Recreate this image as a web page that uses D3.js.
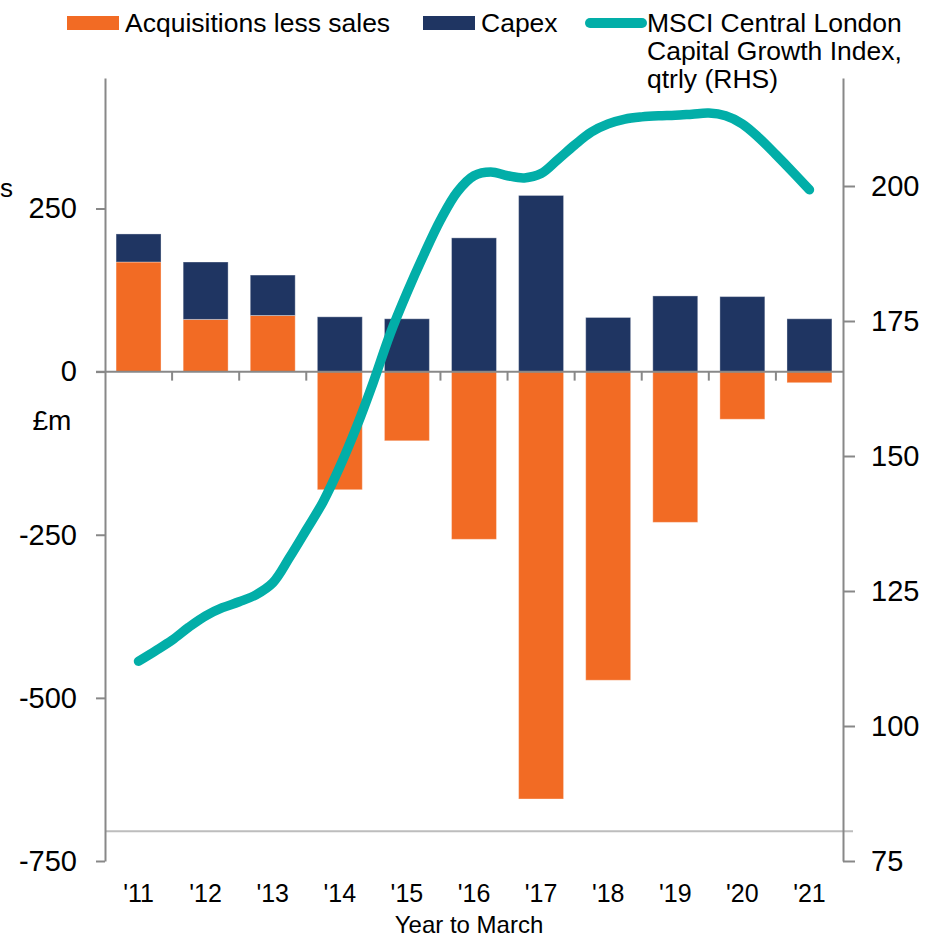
<!DOCTYPE html>
<html>
<head>
<meta charset="utf-8">
<script src="https://cdn.jsdelivr.net/npm/d3@7"></script>
<style>
    html, body { margin: 0; padding: 0; background: #fff; }
    svg { display: block; font-family: "Liberation Sans", Arial, sans-serif; }
</style>
</head>
<body>
<svg id="chart" width="928" height="939"></svg>
<script>
// values, £m and index points
const years = ["'11", "'12", "'13", "'14", "'15", "'16", "'17", "'18", "'19", "'20", "'21"];
const acquisitionsLessSales = [168, 80, 86, -181, -106, -257, -655, -473, -231, -73, -17];
const capex = [43, 88, 62, 84, 81, 205, 270, 83, 116, 115, 81];
// MSCI Central London capital growth index, quarterly from '11 to '21
const msciIndex = [
    112.0, 113.9, 115.9, 118.3,
    120.4, 121.9, 123.0, 124.3,
    126.5, 131.2, 136.3, 141.5,
    148.0, 155.4, 163.7, 172.6,
    180.2, 187.2, 193.7, 198.9,
    201.9, 202.6, 201.9, 201.5,
    202.3, 204.9, 207.6, 210.0,
    211.5, 212.4, 212.8, 213.0,
    213.1, 213.3, 213.5, 213.0,
    211.5, 208.9, 205.8, 202.6,
    199.3
];
const leftTicks = [250, 0, -250, -500, -750];
const rightTicks = [200, 175, 150, 125, 100, 75];
const floorValue = 80.5;

const colors = { acq: "#f26b24", capex: "#1f3562", msci: "#02aea8", axis: "#888888", floor: "#bdbdbd", text: "#000" };

const svg = d3.select("#chart");

const x = d3.scaleBand()
    .domain(years)
    .range([105, 843])
    .paddingInner(0.33)
    .paddingOuter(0.165);

const yLeft = d3.scaleLinear().domain([-750, 450]).range([861, 78]);
const yRight = d3.scaleLinear().domain([75, 220]).range([861, 78]);

// quarter position -> x, from centre of first year to centre of last year
const xQuarter = d3.scaleLinear()
    .domain([0, years.length - 1])
    .range([x(years[0]) + x.bandwidth() / 2, x(years[years.length - 1]) + x.bandwidth() / 2]);

// floor line
svg.append("line")
    .attr("x1", 105).attr("x2", 853)
    .attr("y1", yRight(floorValue)).attr("y2", yRight(floorValue))
    .attr("stroke", colors.floor).attr("stroke-width", 2);

// bars
const bars = years.map((year, i) => {
    const a = acquisitionsLessSales[i];
    const base = Math.max(a, 0);
    return { year, a, c0: base, c1: base + capex[i] };
});

const barLayer = svg.append("g").attr("class", "bars");

barLayer.selectAll("rect.acq")
    .data(bars)
    .join("rect")
    .attr("class", "acq")
    .attr("x", d => x(d.year))
    .attr("width", x.bandwidth())
    .attr("y", d => yLeft(Math.max(d.a, 0)))
    .attr("height", d => Math.abs(yLeft(d.a) - yLeft(0)))
    .attr("fill", colors.acq)
    .attr("stroke", "rgba(255,255,255,0.35)")
    .attr("stroke-width", 1);

barLayer.selectAll("rect.capex")
    .data(bars)
    .join("rect")
    .attr("class", "capex")
    .attr("x", d => x(d.year))
    .attr("width", x.bandwidth())
    .attr("y", d => yLeft(d.c1))
    .attr("height", d => yLeft(d.c0) - yLeft(d.c1))
    .attr("fill", colors.capex)
    .attr("stroke", "rgba(255,255,255,0.35)")
    .attr("stroke-width", 1);

// left axis (plain hyphen for negatives, as in the original)
const leftAxis = svg.append("g")
    .attr("transform", "translate(105,0)")
    .call(d3.axisLeft(yLeft).tickValues(leftTicks).tickFormat(d => String(d))
        .tickSize(9).tickSizeOuter(0).tickPadding(19));

// right axis
const rightAxis = svg.append("g")
    .attr("transform", "translate(843,0)")
    .call(d3.axisRight(yRight).tickValues(rightTicks).tickFormat(d => String(d))
        .tickSize(12).tickSizeOuter(0).tickPadding(16));

[leftAxis, rightAxis].forEach(g => {
    g.select(".domain").attr("stroke", colors.axis).attr("stroke-width", 2);
    g.selectAll(".tick line").attr("stroke", colors.axis).attr("stroke-width", 2);
    g.selectAll(".tick text")
        .attr("fill", colors.text)
        .style("font-size", "29px")
        .style("font-family", "'Liberation Sans', Arial, sans-serif");
});

// zero line with category boundary ticks
const zeroY = yLeft(0);
svg.append("line")
    .attr("x1", 96).attr("x2", 843)
    .attr("y1", zeroY).attr("y2", zeroY)
    .attr("stroke", colors.axis).attr("stroke-width", 2);

svg.append("g")
    .selectAll("line")
    .data(years.slice(1))
    .join("line")
    .attr("x1", d => x(d) - x.step() * x.paddingInner() / 2)
    .attr("x2", d => x(d) - x.step() * x.paddingInner() / 2)
    .attr("y1", zeroY).attr("y2", zeroY + 9)
    .attr("stroke", colors.axis).attr("stroke-width", 2);

// category labels
svg.append("g")
    .selectAll("text")
    .data(years)
    .join("text")
    .attr("x", d => x(d) + x.bandwidth() / 2)
    .attr("y", 902)
    .attr("text-anchor", "middle")
    .style("font-size", "25px")
    .text(d => d);

svg.append("text")
    .attr("x", 469).attr("y", 933)
    .attr("text-anchor", "middle")
    .style("font-size", "24px")
    .text("Year to March");

svg.append("text")
    .attr("x", 52).attr("y", 430)
    .attr("text-anchor", "middle")
    .style("font-size", "28px")
    .text("£m");

// remnant of a label at the left edge
svg.append("text")
    .attr("x", 0).attr("y", 197)
    .style("font-size", "26px")
    .text("s");

// MSCI line
const line = d3.line()
    .x((d, i) => xQuarter(i / 4))
    .y(d => yRight(d))
    .curve(d3.curveCatmullRom);

svg.append("path")
    .datum(msciIndex)
    .attr("d", line)
    .attr("fill", "none")
    .attr("stroke", colors.msci)
    .attr("stroke-width", 9.5)
    .attr("stroke-linecap", "round")
    .attr("stroke-linejoin", "round");

// legend
const legend = svg.append("g").style("font-size", "26.5px");

legend.append("rect").attr("x", 67).attr("y", 16).attr("width", 52).attr("height", 14).attr("fill", colors.acq);
legend.append("text").attr("x", 125).attr("y", 32).text("Acquisitions less sales");

legend.append("rect").attr("x", 423).attr("y", 16).attr("width", 52).attr("height", 14).attr("fill", colors.capex);
legend.append("text").attr("x", 481).attr("y", 32).text("Capex");

legend.append("line")
    .attr("x1", 590).attr("x2", 642).attr("y1", 23).attr("y2", 23)
    .attr("stroke", colors.msci).attr("stroke-width", 10).attr("stroke-linecap", "round");
const msciLabel = legend.append("text").attr("x", 647).attr("y", 32);
["MSCI Central London", "Capital Growth Index,", "qtrly (RHS)"].forEach((t, i) => {
    msciLabel.append("tspan").attr("x", 647).attr("dy", i === 0 ? 0 : 28).text(t);
});
</script>
</body>
</html>
